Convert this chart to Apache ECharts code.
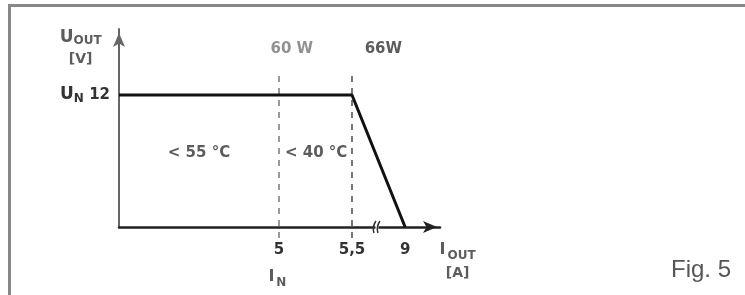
<!DOCTYPE html>
<html>
<head>
<meta charset="utf-8">
<script src="https://cdn.jsdelivr.net/npm/echarts@6/dist/echarts.min.js"></script>
<style>
  body { margin: 0; padding: 0; background: #fff; }
  #chart { width: 745px; height: 295px; }
</style>
</head>
<body>
<div id="chart"></div>
<script>
// output current [A] / output voltage [V]
const curveI = [0, 5.5, 9];
const curveU = [12, 12, 0];

// x tick values and their printed labels
const iTicks = [5, 5.5, 9];
const iTickLabels = ["5", "5,5", "9"];

// power limits (dashed lines) and the temperature ranges between them
const powerI = [5, 5.5];
const powerLabels = ["60 W", "66W"];
const tempLabels = ["< 55 °C", "< 40 °C"];

// y tick
const uTicks = [12];

// the drawn axis is schematic (broken): real current -> position on axis
const breakReal = [0, 5, 5.5, 9];
const breakDrawn = [0, 5, 7.28, 8.94];
function mapI(v) {
  for (let i = 1; i < breakReal.length; i++) {
    if (v <= breakReal[i]) {
      let t = (v - breakReal[i - 1]) / (breakReal[i] - breakReal[i - 1]);
      return breakDrawn[i - 1] + t * (breakDrawn[i] - breakDrawn[i - 1]);
    }
  }
  return breakDrawn[breakDrawn.length - 1];
}

const font = "DejaVu Sans";
const txt = "#333";

let chart = echarts.init(document.getElementById("chart"));

let textItems = [
  { value: [mapI(5) + 0.4, 16.2], label: { formatter: powerLabels[0], color: "#777" } },
  { value: [mapI(5.5) + 0.98, 16.2], label: { formatter: powerLabels[1] } },
  { value: [2.5, 6.7], label: { formatter: tempLabels[0] } },
  { value: [6.16, 6.7], label: { formatter: tempLabels[1] } },
  { value: [mapI(5) - 0.05, -4.8], label: { formatter: "{i|I}{s|N}" } },
  { value: [-1.2, 16.2], label: { formatter: "{u|U}{s|OUT}\n{b|[V]}", lineHeight: 22 } },
  { value: [10.58, -3.3], label: { formatter: "{i|I}{s|OUT}\n{b|[A]}", lineHeight: 20 } },
];

// dashed power limit lines, drawn a bit past the axis like the print
let dashSeries = powerI.map((p, i) => ({
  type: "line",
  data: [[mapI(p), -1], [mapI(p), 14]],
  symbol: "none",
  silent: true,
  clip: false,
  lineStyle: { color: i == 0 ? "#999" : "#777", width: 2, type: [6, 6] },
  z: 2,
}));

let option = {
  animation: false,
  grid: { left: 119, right: 305, top: 29, bottom: 68 },
  xAxis: {
    type: "value",
    min: 0,
    max: 10.03,
    axisLine: {
      lineStyle: { color: "#222", width: 2.5 },
      symbol: ["none", "arrow"],
      symbolSize: [9, 14],
      symbolOffset: [0, -3],
    },
    axisTick: { show: false },
    splitLine: { show: false },
    axisLabel: {
      customValues: iTicks.map(mapI),
      margin: 16,
      color: txt,
      fontFamily: font,
      fontSize: 15,
      fontWeight: "bold",
      formatter: function (v) {
        let idx = iTicks.findIndex((t) => Math.abs(mapI(t) - v) < 1e-6);
        return idx >= 0 ? iTickLabels[idx] : "";
      },
    },
  },
  yAxis: {
    type: "value",
    min: 0,
    max: 18,
    axisLine: {
      lineStyle: { color: "#666", width: 2 },
      symbol: ["none", "arrow"],
      symbolSize: [9, 14],
      symbolOffset: [0, -4],
    },
    axisTick: { show: false },
    splitLine: { show: false },
    axisLabel: {
      customValues: uTicks,
      margin: 9,
      color: txt,
      fontFamily: font,
      fontSize: 15,
      fontWeight: "bold",
      formatter: function (v) {
        return "{u|U}{s|N} " + v;
      },
      rich: {
        u: { fontFamily: font, fontSize: 17, color: txt, fontWeight: "bold" },
        s: { fontFamily: font, fontSize: 12, color: txt, fontWeight: "bold", padding: [8, 0, 0, 0] },
      },
    },
  },
  series: [
    {
      type: "line",
      data: curveI.map((v, i) => [mapI(v), curveU[i]]),
      symbol: "none",
      lineStyle: { color: "#111", width: 3 },
      z: 5,
      clip: false,
    },
    ...dashSeries,
    {
      type: "scatter",
      symbolSize: 0,
      silent: true,
      clip: false,
      data: textItems,
      label: {
        show: true,
        position: "inside",
        color: txt,
        fontFamily: font,
        fontSize: 15,
        fontWeight: "bold",
        rich: {
          u: { fontFamily: font, fontSize: 17, color: txt, fontWeight: "bold" },
          i: { fontFamily: font, fontSize: 16, color: txt, fontWeight: "bold", padding: [0, 2, 6, 0] },
          s: { fontFamily: font, fontSize: 12, color: txt, fontWeight: "bold", padding: [6, 0, 0, 0] },
          b: { fontFamily: font, fontSize: 14, color: txt, fontWeight: "bold" },
        },
      },
    },
  ],
};
chart.setOption(option);

// frame, caption and axis break marks
let bp = chart.convertToPixel({ gridIndex: 0 }, [8.06, 0]);
let breakMarks = [-2, 2].map((dx, k) => ({
  type: "bezierCurve",
  id: "brk" + k,
  shape: {
    x1: bp[0] + dx + 1, y1: bp[1] - 6,
    x2: bp[0] + dx - 1, y2: bp[1] + 6,
    cpx1: bp[0] + dx - 3, cpy1: bp[1],
  },
  style: { stroke: "#333", lineWidth: 1.5, fill: null },
  silent: true,
  z: 10,
}));
chart.setOption({
  graphic: [
    {
      type: "polyline",
      id: "frame",
      shape: { points: [[9.5, 295], [9.5, 5.5], [745, 5.5]] },
      style: { stroke: "#888", lineWidth: 3, fill: null },
      silent: true,
    },
    {
      type: "text",
      id: "fig",
      x: 671,
      y: 258,
      style: { text: "Fig. 5", fill: "#555", fontSize: 24, fontFamily: "Liberation Sans" },
      silent: true,
    },
    {
      type: "rect",
      id: "gap",
      shape: { x: bp[0] - 1.5, y: bp[1] - 2, width: 3, height: 4 },
      style: { fill: "#fff" },
      silent: true,
      z: 9,
    },
    ...breakMarks,
  ],
});
</script>
</body>
</html>
